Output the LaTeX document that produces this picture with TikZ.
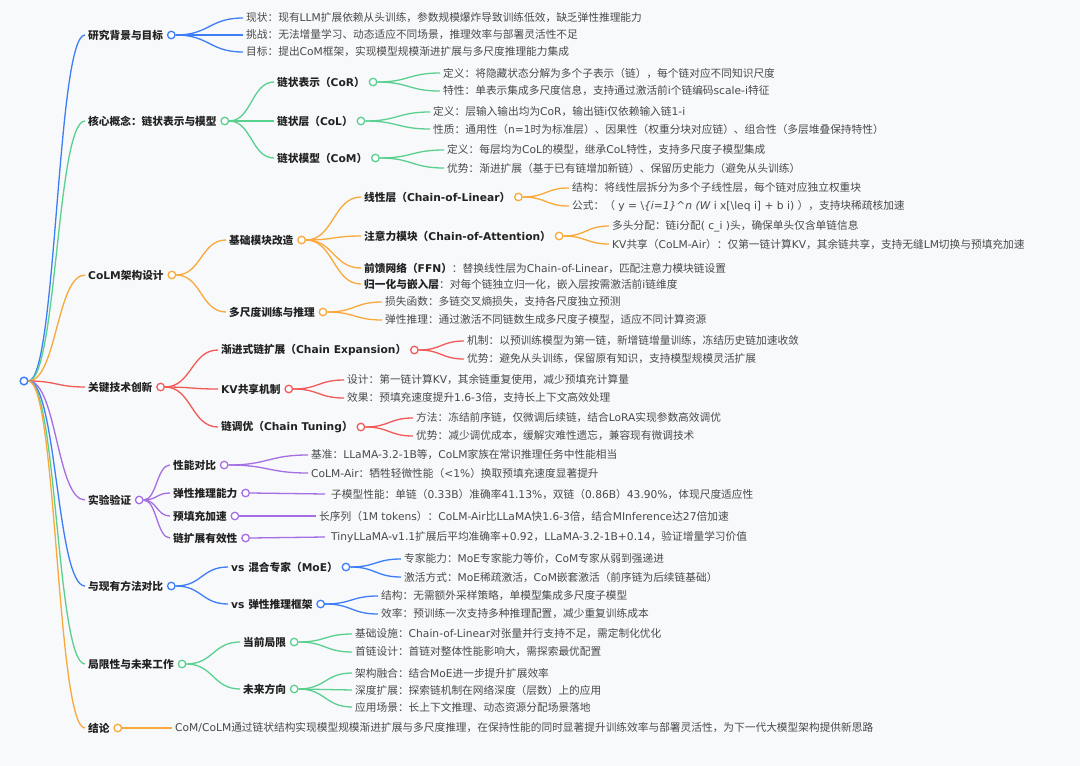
\documentclass[tikz,border=0pt]{standalone}
\usepackage{fontspec}
\setmainfont{DejaVu Sans}
\newfontfamily\cjkf{Noto Sans CJK SC}[AutoFakeSlant=0.2]
\newfontfamily\latf{DejaVu Sans}
\newXeTeXintercharclass\cjkcls
\count255="3000
\loop\XeTeXcharclass\count255=\cjkcls\ifnum\count255<"303F\advance\count255 1\repeat
\count255="4E00
\loop\XeTeXcharclass\count255=\cjkcls\ifnum\count255<"9FFF\advance\count255 1\repeat
\count255="FF00
\loop\XeTeXcharclass\count255=\cjkcls\ifnum\count255<"FFEF\advance\count255 1\repeat
\XeTeXinterchartoks 0 \cjkcls = {\cjkf}
\XeTeXinterchartoks 4095 \cjkcls = {\cjkf}
\XeTeXinterchartoks \cjkcls 0 = {\latf}
\XeTeXinterchartoks \cjkcls 4095 = {\latf}
\XeTeXinterchartokenstate=1
\usetikzlibrary{calc}
\definecolor{bl}{HTML}{3D7EF6}
\definecolor{gr}{HTML}{5AD08F}
\definecolor{og}{HTML}{F9A83A}
\definecolor{rd}{HTML}{F25A57}
\definecolor{pu}{HTML}{A56EE3}
\definecolor{bg}{HTML}{F8F9FB}
\definecolor{labc}{HTML}{222222}
\definecolor{leafc}{HTML}{4A4A4A}
\tikzset{
  lbl/.style={anchor=west, inner xsep=3pt, inner ysep=1pt, font=\fontsize{10.7}{12}\selectfont\bfseries, text=labc},
  leaf/.style={anchor=west, inner xsep=3pt, inner ysep=1pt, font=\fontsize{10.7}{12}\selectfont, text=leafc},
  knob/.style={circle, draw=#1, fill=white, line width=1.3pt, minimum size=7.5pt, inner sep=0pt},
  lk/.style={draw=#1, line width=1.3pt, to path={let \p1=(\tikztostart), \p2=(\tikztotarget), \n1={0.5*(\x2-\x1)} in .. controls ([xshift=\n1]\tikztostart) and ([xshift=-\n1]\tikztotarget) .. (\tikztotarget)}}
}
\begin{document}
\begin{tikzpicture}[x=1pt,y=-1pt]
\fill[bg] (0,0) rectangle (1080,766);
\useasboundingbox (0,0) rectangle (1080,766);

\node[knob=bl] (root) at (24,381) {};

% ---------- A
\node[lbl] (A) at (85,35) {研究背景与目标};
\node[knob=bl] (Ac) at ([xshift=5pt]A.east) {};
\node[leaf] (A1) at (243,18) {现状：现有LLM扩展依赖从头训练，参数规模爆炸导致训练低效，缺乏弹性推理能力};
\node[leaf] (A2) at (243,35) {挑战：无法增量学习、动态适应不同场景，推理效率与部署灵活性不足};
\node[leaf] (A3) at (243,52) {目标：提出CoM框架，实现模型规模渐进扩展与多尺度推理能力集成};
\draw[lk=bl] (root.east) to (A.west);
\draw[lk=bl] (Ac.east) to (A1.west);
\draw[lk=bl] (Ac.east) to (A2.west);
\draw[lk=bl] (Ac.east) to (A3.west);

% ---------- B
\node[lbl] (B) at (85,121) {核心概念：链状表示与模型};
\node[knob=gr] (Bc) at ([xshift=5pt]B.east) {};
\draw[lk=gr] (root.east) to (B.west);
\node[lbl] (B1) at (274,82) {链状表示（CoR）};
\node[knob=gr] (B1c) at ([xshift=5pt]B1.east) {};
\node[lbl] (B2) at (274,121) {链状层（CoL）};
\node[knob=gr] (B2c) at ([xshift=5pt]B2.east) {};
\node[lbl] (B3) at (274,158) {链状模型（CoM）};
\node[knob=gr] (B3c) at ([xshift=5pt]B3.east) {};
\draw[lk=gr] (Bc.east) to (B1.west);
\draw[lk=gr] (Bc.east) to (B2.west);
\draw[lk=gr] (Bc.east) to (B3.west);
\node[leaf] (B11) at (440,73) {定义：将隐藏状态分解为多个子表示（链），每个链对应不同知识尺度};
\node[leaf] (B12) at (440,91) {特性：单表示集成多尺度信息，支持通过激活前i个链编码scale-i特征};
\node[leaf] (B21) at (430,112) {定义：层输入输出均为CoR，输出链i仅依赖输入链1-i};
\node[leaf] (B22) at (430,129) {性质：通用性（n=1时为标准层）、因果性（权重分块对应链）、组合性（多层堆叠保持特性）};
\node[leaf] (B31) at (444,150) {定义：每层均为CoL的模型，继承CoL特性，支持多尺度子模型集成};
\node[leaf] (B32) at (444,168) {优势：渐进扩展（基于已有链增加新链）、保留历史能力（避免从头训练）};
\draw[lk=gr] (B1c.east) to (B11.west);
\draw[lk=gr] (B1c.east) to (B12.west);
\draw[lk=gr] (B2c.east) to (B21.west);
\draw[lk=gr] (B2c.east) to (B22.west);
\draw[lk=gr] (B3c.east) to (B31.west);
\draw[lk=gr] (B3c.east) to (B32.west);

% ---------- C
\node[lbl] (C) at (85,275) {CoLM架构设计};
\node[knob=og] (Cc) at ([xshift=5pt]C.east) {};
\draw[lk=og] (root.east) to (C.west);
\node[lbl] (C1) at (226,240) {基础模块改造};
\node[knob=og] (C1c) at ([xshift=5pt]C1.east) {};
\node[lbl] (C2) at (226,312) {多尺度训练与推理};
\node[knob=og] (C2c) at ([xshift=5pt]C2.east) {};
\draw[lk=og] (Cc.east) to (C1.west);
\draw[lk=og] (Cc.east) to (C2.west);
\node[lbl] (C11) at (361,197) {线性层（Chain-of-Linear）};
\node[knob=og] (C11c) at ([xshift=5pt]C11.east) {};
\node[lbl] (C12) at (361,236) {注意力模块（Chain-of-Attention）};
\node[knob=og] (C12c) at ([xshift=5pt]C12.east) {};
\node[leaf] (C13) at (361,268) {{\bfseries\color{labc}前馈网络（FFN）}：替换线性层为Chain-of-Linear，匹配注意力模块链设置};
\node[leaf] (C14) at (361,284) {{\bfseries\color{labc}归一化与嵌入层}：对每个链独立归一化，嵌入层按需激活前i链维度};
\draw[lk=og] (C1c.east) to (C11.west);
\draw[lk=og] (C1c.east) to (C12.west);
\draw[lk=og] (C1c.east) to (C13.west);
\draw[lk=og] (C1c.east) to (C14.west);
\node[leaf] (C111) at (569,188) {结构：将线性层拆分为多个子线性层，每个链对应独立权重块};
\node[leaf] (C112) at (569,206) {公式：（ y = \textbackslash{\itshape\{i=1\}\textasciicircum n (W} i x[\textbackslash leq i] + b i) ），支持块稀疏核加速};
\draw[lk=og] (C11c.east) to (C111.west);
\draw[lk=og] (C11c.east) to (C112.west);
\node[leaf] (C121) at (609,226) {多头分配：链i分配( c\_i )头，确保单头仅含单链信息};
\node[leaf] (C122) at (609,244) {KV共享（CoLM-Air）：仅第一链计算KV，其余链共享，支持无缝LM切换与预填充加速};
\draw[lk=og] (C12c.east) to (C121.west);
\draw[lk=og] (C12c.east) to (C122.west);
\node[leaf] (C21) at (382,302) {损失函数：多链交叉熵损失，支持各尺度独立预测};
\node[leaf] (C22) at (382,320) {弹性推理：通过激活不同链数生成多尺度子模型，适应不同计算资源};
\draw[lk=og] (C2c.east) to (C21.west);
\draw[lk=og] (C2c.east) to (C22.west);

% ---------- D
\node[lbl] (D) at (85,387) {关键技术创新};
\node[knob=rd] (Dc) at ([xshift=5pt]D.east) {};
\draw[lk=rd] (root.east) to (D.west);
\node[lbl] (D1) at (218,350) {渐进式链扩展（Chain Expansion）};
\node[knob=rd] (D1c) at ([xshift=5pt]D1.east) {};
\node[lbl] (D2) at (218,389) {KV共享机制};
\node[knob=rd] (D2c) at ([xshift=5pt]D2.east) {};
\node[lbl] (D3) at (218,427) {链调优（Chain Tuning）};
\node[knob=rd] (D3c) at ([xshift=5pt]D3.east) {};
\draw[lk=rd] (Dc.east) to (D1.west);
\draw[lk=rd] (Dc.east) to (D2.west);
\draw[lk=rd] (Dc.east) to (D3.west);
\node[leaf] (D11) at (464,341) {机制：以预训练模型为第一链，新增链增量训练，冻结历史链加速收敛};
\node[leaf] (D12) at (464,359) {优势：避免从头训练，保留原有知识，支持模型规模灵活扩展};
\node[leaf] (D21) at (344,380) {设计：第一链计算KV，其余链重复使用，减少预填充计算量};
\node[leaf] (D22) at (344,398) {效果：预填充速度提升1.6-3倍，支持长上下文高效处理};
\node[leaf] (D31) at (413,418) {方法：冻结前序链，仅微调后续链，结合LoRA实现参数高效调优};
\node[leaf] (D32) at (413,436) {优势：减少调优成本，缓解灾难性遗忘，兼容现有微调技术};
\draw[lk=rd] (D1c.east) to (D11.west);
\draw[lk=rd] (D1c.east) to (D12.west);
\draw[lk=rd] (D2c.east) to (D21.west);
\draw[lk=rd] (D2c.east) to (D22.west);
\draw[lk=rd] (D3c.east) to (D31.west);
\draw[lk=rd] (D3c.east) to (D32.west);

% ---------- E
\node[lbl] (E) at (85,500) {实验验证};
\node[knob=pu] (Ec) at ([xshift=5pt]E.east) {};
\draw[lk=pu] (root.east) to (E.west);
\node[lbl] (E1) at (170,465) {性能对比};
\node[knob=pu] (E1c) at ([xshift=5pt]E1.east) {};
\node[lbl] (E2) at (170,493) {弹性推理能力};
\node[knob=pu] (E2c) at ([xshift=5pt]E2.east) {};
\node[lbl] (E3) at (170,516) {预填充加速};
\node[knob=pu] (E3c) at ([xshift=5pt]E3.east) {};
\node[lbl] (E4) at (170,538) {链扩展有效性};
\node[knob=pu] (E4c) at ([xshift=5pt]E4.east) {};
\draw[lk=pu] (Ec.east) to (E1.west);
\draw[lk=pu] (Ec.east) to (E2.west);
\draw[lk=pu] (Ec.east) to (E3.west);
\draw[lk=pu] (Ec.east) to (E4.west);
\node[leaf] (E11) at (308,455) {基准：LLaMA-3.2-1B等，CoLM家族在常识推理任务中性能相当};
\node[leaf] (E12) at (308,473) {CoLM-Air：牺牲轻微性能（<1\%）换取预填充速度显著提升};
\node[leaf] (E21) at (325,494) {\hspace{3pt}子模型性能：单链（0.33B）准确率41.13\%，双链（0.86B）43.90\%，体现尺度适应性};
\node[leaf] (E31) at (316,516) {长序列（1M tokens）：CoLM-Air比LLaMA快1.6-3倍，结合MInference达27倍加速};
\node[leaf] (E41) at (325,537) {\hspace{3pt}TinyLLaMA-v1.1扩展后平均准确率+0.92，LLaMA-3.2-1B+0.14，验证增量学习价值};
\draw[lk=pu] (E1c.east) to (E11.west);
\draw[lk=pu] (E1c.east) to (E12.west);
\draw[lk=pu] (E2c.east) to (E21.west);
\draw[lk=pu] (E3c.east) to (E31.west);
\draw[lk=pu] (E4c.east) to (E41.west);

% ---------- F
\node[lbl] (F) at (85,586) {与现有方法对比};
\node[knob=bl] (Fc) at ([xshift=5pt]F.east) {};
\draw[lk=bl] (root.east) to (F.west);
\node[lbl] (F1) at (228,567) {vs 混合专家（MoE）};
\node[knob=bl] (F1c) at ([xshift=5pt]F1.east) {};
\node[lbl] (F2) at (228,604) {vs 弹性推理框架};
\node[knob=bl] (F2c) at ([xshift=5pt]F2.east) {};
\draw[lk=bl] (Fc.east) to (F1.west);
\draw[lk=bl] (Fc.east) to (F2.west);
\node[leaf] (F11) at (401,559) {专家能力：MoE专家能力等价，CoM专家从弱到强递进};
\node[leaf] (F12) at (401,577) {激活方式：MoE稀疏激活，CoM嵌套激活（前序链为后续链基础）};
\node[leaf] (F21) at (378,596) {结构：无需额外采样策略，单模型集成多尺度子模型};
\node[leaf] (F22) at (378,614) {效率：预训练一次支持多种推理配置，减少重复训练成本};
\draw[lk=bl] (F1c.east) to (F11.west);
\draw[lk=bl] (F1c.east) to (F12.west);
\draw[lk=bl] (F2c.east) to (F21.west);
\draw[lk=bl] (F2c.east) to (F22.west);

% ---------- G
\node[lbl] (G) at (85,664) {局限性与未来工作};
\node[knob=gr] (Gc) at ([xshift=5pt]G.east) {};
\draw[lk=gr] (root.east) to (G.west);
\node[lbl] (G1) at (240,642) {当前局限};
\node[knob=gr] (G1c) at ([xshift=5pt]G1.east) {};
\node[lbl] (G2) at (240,689) {未来方向};
\node[knob=gr] (G2c) at ([xshift=5pt]G2.east) {};
\draw[lk=gr] (Gc.east) to (G1.west);
\draw[lk=gr] (Gc.east) to (G2.west);
\node[leaf] (G11) at (352,634) {基础设施：Chain-of-Linear对张量并行支持不足，需定制化优化};
\node[leaf] (G12) at (352,652) {首链设计：首链对整体性能影响大，需探索最优配置};
\node[leaf] (G21) at (352,673) {架构融合：结合MoE进一步提升扩展效率};
\node[leaf] (G22) at (352,690) {深度扩展：探索链机制在网络深度（层数）上的应用};
\node[leaf] (G23) at (352,707) {应用场景：长上下文推理、动态资源分配场景落地};
\draw[lk=gr] (G1c.east) to (G11.west);
\draw[lk=gr] (G1c.east) to (G12.west);
\draw[lk=gr] (G2c.east) to (G21.west);
\draw[lk=gr] (G2c.east) to (G22.west);
\draw[lk=gr] (G2c.east) to (G23.west);

% ---------- H
\node[lbl] (H) at (85,728) {结论};
\node[knob=og] (Hc) at ([xshift=5pt]H.east) {};
\draw[lk=og] (root.east) to (H.west);
\node[leaf] (H1) at (172,728) {CoM/CoLM通过链状结构实现模型规模渐进扩展与多尺度推理，在保持性能的同时显著提升训练效率与部署灵活性，为下一代大模型架构提供新思路};
\draw[lk=og] (Hc.east) to (H1.west);

\node[knob=bl] at (root) {};
\end{tikzpicture}
\end{document}
